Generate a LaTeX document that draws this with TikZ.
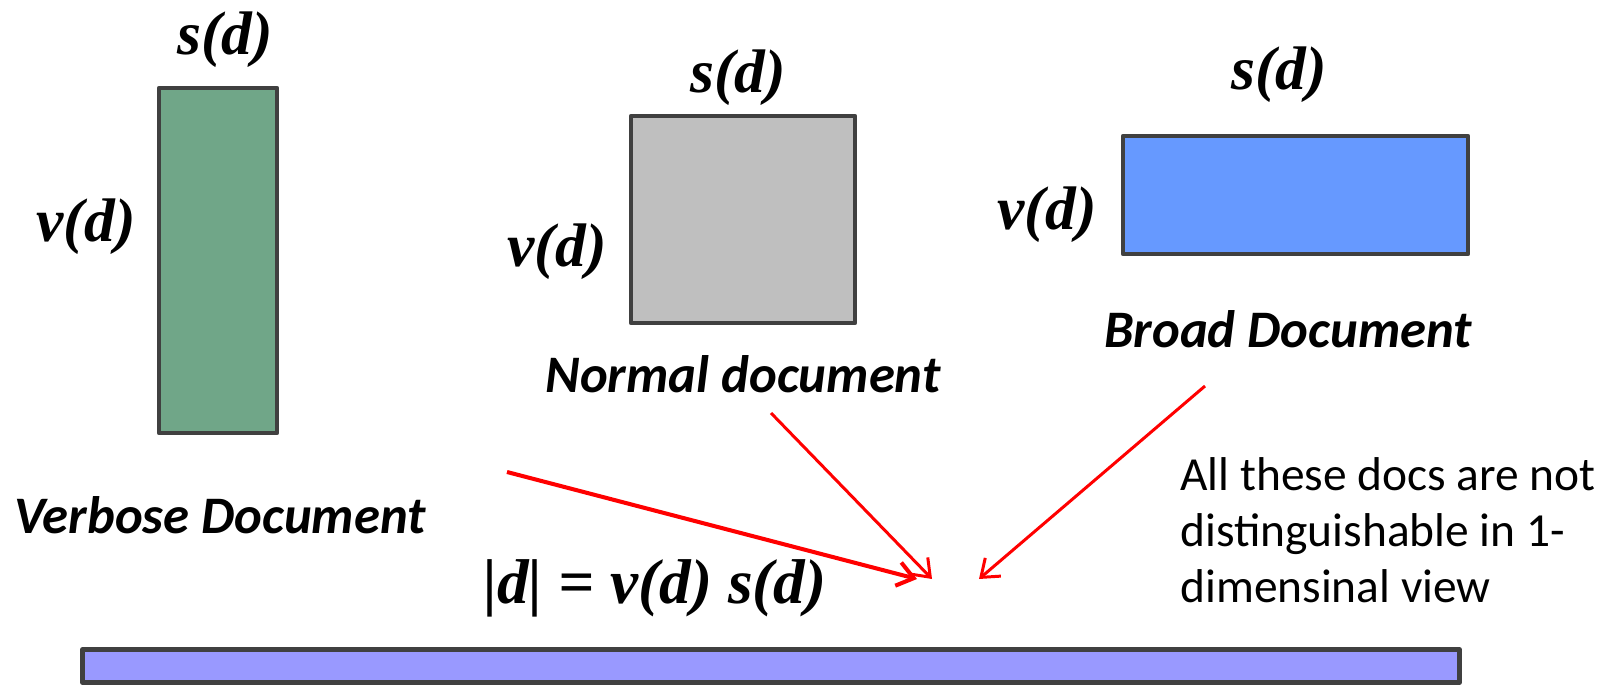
\documentclass[tikz,border=0pt]{standalone}
\usepackage{fontspec}
\setmainfont{Liberation Serif}
\newfontfamily\calibri{Carlito}
\usetikzlibrary{positioning,arrows.meta}
\definecolor{VerboseGreen}{RGB}{112,166,136}
\definecolor{NormalGray}{RGB}{191,191,191}
\definecolor{BroadBlue}{RGB}{102,153,255}
\definecolor{FlatViolet}{RGB}{153,153,255}
\definecolor{EdgeGray}{RGB}{64,64,64}

\begin{document}
\begin{tikzpicture}[x=0.02cm,y=-0.02cm,
      >={Straight Barb[length=3.2mm,width=4.8mm]},
      doc/.style={draw=EdgeGray,line width=2.6pt,line join=round,inner sep=0pt,outer sep=0pt},
      dim/.style={font=\fontsize{35}{40}\selectfont\bfseries\itshape,inner sep=0pt,anchor=base},
      docname/.style={font=\calibri\fontsize{30}{34}\selectfont\bfseries\itshape,inner sep=0pt,anchor=base},
      arrow/.style={->,red,line width=1.7pt}]
    \useasboundingbox (0,0) rectangle (1618,685);
    % the three documents
    \node[doc,fill=VerboseGreen,minimum width=2.36cm,minimum height=6.9cm] (verbose) at (218,260.5) {};
    \node[doc,fill=NormalGray,minimum width=4.48cm,minimum height=4.14cm] (normal) at (743,219.5) {};
    \node[doc,fill=BroadBlue,minimum width=6.9cm,minimum height=2.36cm] (broad) at (1295.5,195) {};
    \node[dim] (vs) at (225,55) {s(d)};
    \node[dim] (vv) at (86,242) {v(d)};
    \node[dim] (ns) at (738,93) {s(d)};
    \node[dim] (nv) at (557,267) {v(d)};
    \node[dim] (bs) at (1279,90) {s(d)};
    \node[dim] (bv) at (1047,230) {v(d)};
    \node[docname] (vname) at (220,533) {Verbose Document};
    \node[docname] (nname) at (743,393) {Normal document};
    \node[docname] (bname) at (1288,348) {Broad Document};
    % 1-dimensional view
    \node[dim,font=\fontsize{36}{40}\selectfont\bfseries\itshape] (len) at (655,603) {|d| = v(d) s(d)};
    \node[doc,fill=FlatViolet,minimum width=27.54cm,minimum height=0.67cm] (flat) at (771,666) {};
    \node[font=\calibri\fontsize{27}{32}\selectfont,align=left,inner sep=0pt,anchor=north west] (note) at (1180,457)
      {All these docs are not\\ distinguishable in 1-\\ dimensinal view};
    \coordinate (vfrom) at (507,472);
    \coordinate (nfrom) at (771,413);
    \coordinate (bfrom) at (1205,386);
    \coordinate (vto) at (917,579);
    \coordinate (nto) at (932,579);
    \coordinate (bto) at (979,579);
    \draw[arrow,line width=2.3pt] (vfrom) -- (vto);
    \foreach \x/\y in {nfrom/nto,bfrom/bto}
      \draw[arrow] (\x) -- (\y);
  \end{tikzpicture}
\end{document}
